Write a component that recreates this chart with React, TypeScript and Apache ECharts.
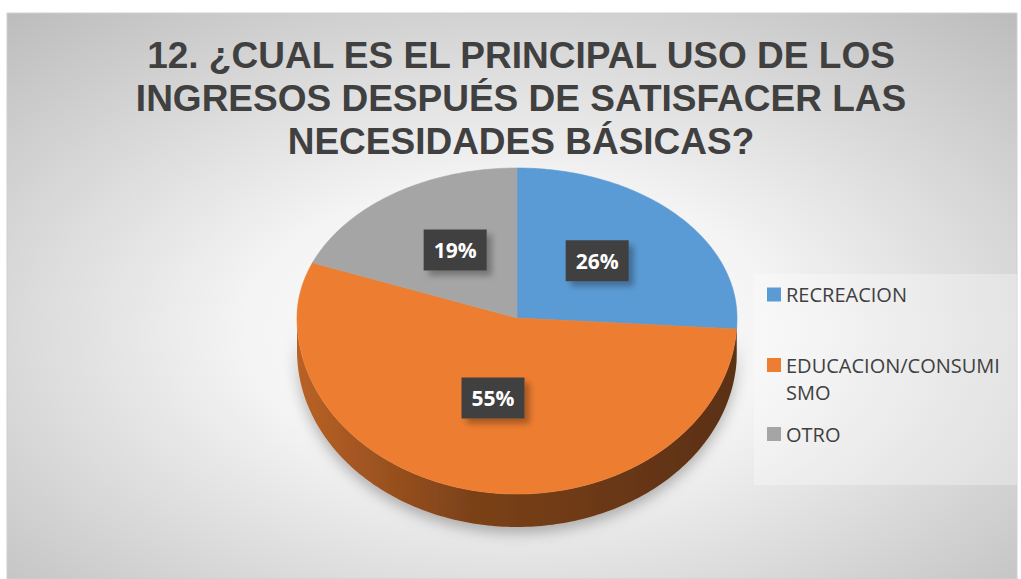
import React, { useEffect, useRef } from 'react';
import * as echarts from 'echarts';

const categories = ['RECREACION', 'EDUCACION/CONSUMISMO', 'OTRO'];
const legendLabels = ['RECREACION', '\nEDUCACION/CONSUMI\nSMO', 'OTRO'];
const values = [26, 55, 19];
const colors = ['#5B9BD5', '#ED7D31', '#A5A5A5'];
const titleLines = [
  '12. ¿CUAL ES EL PRINCIPAL USO DE LOS',
  'INGRESOS DESPUÉS DE SATISFACER LAS',
  'NECESIDADES BÁSICAS?',
];

// layout of the tilted pie
const CX = 517;
const CY = 318;
const RX = 220;
const RY_TOP = 150;
const RY_BOT = 176;
const DEPTH = 33;
const LABEL_R = 0.5;
const LABEL_DY = -6;

const total = values.reduce((a, b) => a + b, 0);

function darken(hex: string, k: number): string {
  const n = parseInt(hex.slice(1), 16);
  const r = Math.round(((n >> 16) & 255) * (1 - k));
  const g = Math.round(((n >> 8) & 255) * (1 - k));
  const b = Math.round((n & 255) * (1 - k));
  return `rgb(${r},${g},${b})`;
}

function pt(deg: number, dy = 0): number[] {
  const r = (deg * Math.PI) / 180;
  const s = Math.sin(r);
  const c = Math.cos(r);
  const ry = c > 0 ? RY_TOP : RY_BOT;
  return [CX + RX * s, CY - ry * c + dy];
}

function arc(a: number, b: number, dy: number): number[][] {
  const pts: number[][] = [];
  for (let d = a; d < b; d += 1) pts.push(pt(d, dy));
  pts.push(pt(b, dy));
  return pts;
}

function makeRender(i: number) {
  return (params: any, api: any) => {
    const v = api.value(0);
    const before = values.slice(0, i).reduce((a, b) => a + b, 0);
    const start = (before / total) * 360;
    const end = ((before + v) / total) * 360;
    const color = colors[i];
    const children: any[] = [];
    const s = Math.max(start, 90);
    const e = Math.min(end, 270);
    if (e > s) {
      const top = arc(s, e, 0);
      const bot = arc(s, e, DEPTH).reverse();
      children.push({
        type: 'polygon',
        shape: { points: top.concat(bot) },
        style: {
          fill: {
            type: 'linear',
            x: CX - RX,
            y: 0,
            x2: CX + RX,
            y2: 0,
            global: true,
            colorStops: [
              { offset: 0, color: darken(color, 0.22) },
              { offset: 0.4, color: darken(color, 0.48) },
              { offset: 1, color: darken(color, 0.62) },
            ],
          },
          shadowBlur: 14,
          shadowOffsetY: 6,
          shadowColor: 'rgba(0,0,0,0.28)',
        },
        z2: 1,
      });
    }
    const topPts = [[CX, CY]].concat(arc(start, end, 0));
    children.push({
      type: 'polygon',
      shape: { points: topPts },
      style: { fill: color, stroke: color, lineWidth: 0.6 },
      z2: 10,
    });
    const mid = (start + end) / 2;
    const mr = (mid * Math.PI) / 180;
    const mc = Math.cos(mr);
    const lx = CX + RX * LABEL_R * Math.sin(mr);
    const ly = CY - (mc > 0 ? RY_TOP : RY_BOT) * LABEL_R * mc + LABEL_DY;
    const pct = Math.round((v / total) * 100) + '%';
    children.push({
      type: 'rect',
      shape: { x: lx - 31.5, y: ly - 20.5, width: 63, height: 41 },
      style: {
        fill: '#404040',
        shadowBlur: 6,
        shadowOffsetX: 5,
        shadowOffsetY: 5,
        shadowColor: 'rgba(0,0,0,0.3)',
      },
      z2: 20,
    });
    children.push({
      type: 'text',
      style: {
        text: pct,
        x: lx,
        y: ly,
        align: 'center',
        verticalAlign: 'middle',
        fill: '#ffffff',
        fontFamily: '"Open Sans", sans-serif',
        fontWeight: 'bold',
        fontSize: 21,
      },
      z2: 21,
    });
    return { type: 'group', children };
  };
}

const legendTops = [281, 324.5, 420.5];

export default function App() {
  const ref = useRef<HTMLDivElement>(null);
  useEffect(() => {
    if (!ref.current) return;
    const chart = echarts.init(ref.current, undefined, { renderer: 'svg' });
    const option: any = {
      animation: false,
      backgroundColor: '#ffffff',
      graphic: [
        {
          type: 'rect',
          z: -10,
          shape: { x: 7, y: 13, width: 1010, height: 566 },
          style: {
            fill: {
              type: 'radial',
              x: 0.5,
              y: 0.56,
              r: 0.75,
              colorStops: [
                { offset: 0, color: '#ffffff' },
                { offset: 0.35, color: '#f4f4f4' },
                { offset: 1, color: '#bcbcbc' },
              ],
            },
            stroke: '#cfcfcf',
            lineWidth: 1,
          },
        },
        {
          type: 'rect',
          shape: { x: 754, y: 274, width: 263, height: 211 },
          style: { fill: 'rgba(255,255,255,0.3)' },
        },
        {
          type: 'text',
          x: 521,
          y: 34,
          style: {
            text: titleLines.join('\n'),
            align: 'center',
            verticalAlign: 'top',
            fill: '#404040',
            fontFamily: '"Liberation Sans", Arial, sans-serif',
            fontWeight: 'bold',
            fontSize: 37,
            lineHeight: 43,
          },
        },
      ],
      legend: categories.map((name, i) => ({
        data: [name],
        left: 767,
        top: legendTops[i],
        orient: 'vertical',
        padding: 0,
        itemWidth: 14,
        itemHeight: 14,
        icon: 'rect',
        selectedMode: false,
        formatter: () => legendLabels[i],
        textStyle: {
          color: '#404040',
          fontFamily: '"Open Sans", sans-serif',
          fontSize: 20,
          lineHeight: 27,
        },
      })),
      series: categories.map((name, i) => ({
        type: 'custom',
        name,
        coordinateSystem: 'none',
        itemStyle: { color: colors[i] },
        data: [values[i]],
        renderItem: makeRender(i),
      })),
    };
    chart.setOption(option);
    return () => chart.dispose();
  }, []);
  return (
    <div
      ref={ref}
      style={{ position: 'absolute', left: 0, top: 0, width: 1021, height: 579 }}
    />
  );
}
